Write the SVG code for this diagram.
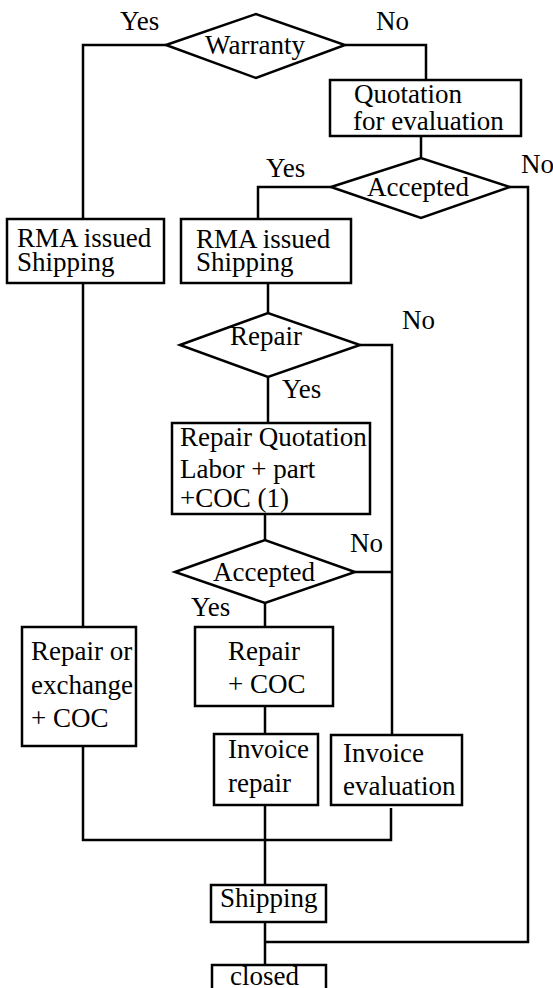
<svg xmlns="http://www.w3.org/2000/svg" width="553" height="988" viewBox="0 0 553 988">
<style>
.s{fill:#fff;stroke:#000;stroke-width:2.5}
.c{fill:none;stroke:#000;stroke-width:2.5}
text{font-family:"Liberation Serif","Times New Roman",serif;font-size:27px;fill:#000}
.m{text-anchor:middle}
</style>
<rect width="553" height="988" fill="#fff"/>
<g id="connectors">
<path class="c" d="M166,45 H83 V219"/>
<path class="c" d="M345,45 H426 V80"/>
<path class="c" d="M421,136 V158"/>
<path class="c" d="M331,187 H258 V219"/>
<path class="c" d="M510,187 H528 V942 H265"/>
<path class="c" d="M83,283 V627"/>
<path class="c" d="M268,283 V313"/>
<path class="c" d="M360,345 H392 V735"/>
<path class="c" d="M268,377 V423"/>
<path class="c" d="M355,572 H392"/>
<path class="c" d="M265,514 V540"/>
<path class="c" d="M265,603 V627"/>
<path class="c" d="M265,706 V734"/>
<path class="c" d="M83,746 V840 H391 V808"/>
<path class="c" d="M265,805 V885"/>
<path class="c" d="M265,922 V965"/>
</g>
<g id="labels">
<text x="120" y="30">Yes</text>
<text x="376" y="30">No</text>
<text x="266" y="177">Yes</text>
<text x="521" y="173">No</text>
<text x="402" y="329">No</text>
<text x="282" y="398">Yes</text>
<text x="350" y="552">No</text>
<text x="191" y="616">Yes</text>
</g>
<g id="warranty">
<polygon class="s" points="166,45 256,14 345,45 256,78"/>
<text class="m" x="255" y="54">Warranty</text>
</g>
<g id="quotation">
<rect class="s" x="330" y="80" width="191" height="56"/>
<text x="354" y="103">Quotation</text>
<text x="353" y="130">for evaluation</text>
</g>
<g id="accepted1">
<polygon class="s" points="331,187 421,158 510,187 421,218"/>
<text class="m" x="418" y="196">Accepted</text>
</g>
<g id="rma1">
<rect class="s" x="7" y="219" width="157" height="64"/>
<text x="17" y="247">RMA issued</text>
<text x="17" y="271">Shipping</text>
</g>
<g id="rma2">
<rect class="s" x="181" y="219" width="170" height="64"/>
<text x="196" y="248">RMA issued</text>
<text x="196" y="271">Shipping</text>
</g>
<g id="repair">
<polygon class="s" points="180,345 268,313 360,345 268,377"/>
<text class="m" x="266" y="345">Repair</text>
</g>
<g id="repairquotation">
<rect class="s" x="172" y="423" width="198" height="91"/>
<text x="180" y="446">Repair Quotation</text>
<text x="180" y="478">Labor + part</text>
<text x="180" y="507">+COC (1)</text>
</g>
<g id="accepted2">
<polygon class="s" points="175,572 265,540 355,572 265,603"/>
<text class="m" x="264" y="581">Accepted</text>
</g>
<g id="repaircoc">
<rect class="s" x="195" y="627" width="138" height="79"/>
<text x="228" y="660">Repair</text>
<text x="228" y="693">+ COC</text>
</g>
<g id="repairexchange">
<rect class="s" x="22" y="627" width="114" height="119"/>
<text x="31" y="660">Repair or</text>
<text x="31" y="694">exchange</text>
<text x="31" y="727">+ COC</text>
</g>
<g id="invoicerepair">
<rect class="s" x="214" y="734" width="104" height="71"/>
<text x="228" y="758">Invoice</text>
<text x="228" y="792">repair</text>
</g>
<g id="invoiceevaluation">
<rect class="s" x="331" y="735" width="131" height="70"/>
<text x="343" y="762">Invoice</text>
<text x="343" y="795">evaluation</text>
</g>
<g id="shipping">
<rect class="s" x="211" y="885" width="115" height="37"/>
<text x="220" y="907">Shipping</text>
</g>
<g id="closed">
<rect class="s" x="212" y="965" width="114" height="40"/>
<text x="230" y="985">closed</text>
</g>
</svg>
